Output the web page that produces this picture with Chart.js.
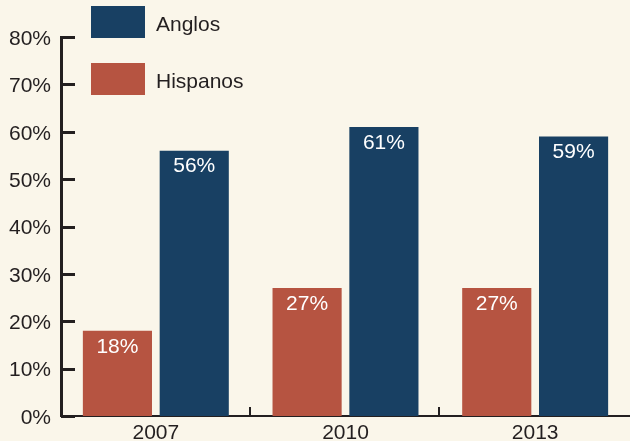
<!DOCTYPE html>
<html><head><meta charset="utf-8">
<script src="https://cdn.jsdelivr.net/npm/chart.js@4.4.0/dist/chart.umd.min.js"></script>
<style>html,body{margin:0;padding:0;background:#faf6ea;} canvas{display:block;}</style>
</head><body><canvas id="c" width="630" height="441"></canvas>
<script>
const categories = ['2007', '2010', '2013'];
const seriesNames = ['Hispanos', 'Anglos'];
const hispanosValues = [18, 27, 27];
const anglosValues = [56, 61, 59];
const yTickValues = [0, 10, 20, 30, 40, 50, 60, 70, 80];
const seriesColors = ['#b65441', '#184063'];

const FONT = '"Liberation Sans", Arial, sans-serif';
const INK = '#231f20';

const decorPlugin = {
  id: 'decor',
  afterDraw(chart) {
    const ctx = chart.ctx;
    const xs = chart.scales.x, ys = chart.scales.y;
    const area = chart.chartArea;
    ctx.save();
    ctx.strokeStyle = INK;
    // y ticks pointing inward
    ctx.lineWidth = 3;
    yTickValues.forEach(v => {
      const y = Math.round(ys.getPixelForValue(v)) + 0.5;
      ctx.beginPath(); ctx.moveTo(area.left, y); ctx.lineTo(area.left + 14, y); ctx.stroke();
    });
    // x ticks between categories, pointing inward
    ctx.lineWidth = 2;
    for (let i = 0; i < categories.length - 1; i++) {
      const x = Math.round((xs.getPixelForValue(i) + xs.getPixelForValue(i + 1)) / 2) - 1;
      ctx.beginPath(); ctx.moveTo(x, area.bottom); ctx.lineTo(x, area.bottom - 9); ctx.stroke();
    }
    // value labels
    ctx.fillStyle = '#ffffff';
    ctx.font = '21px ' + FONT;
    ctx.textAlign = 'center';
    ctx.textBaseline = 'middle';
    chart.data.datasets.forEach((ds, di) => {
      const meta = chart.getDatasetMeta(di);
      meta.data.forEach((el, i) => {
        ctx.fillText(ds.data[i] + '%', el.x, el.y + 16);
      });
    });
    // legend (reverse order: Anglos first)
    ctx.font = '21px ' + FONT;
    ctx.textAlign = 'left';
    const order = chart.data.datasets.map((d, i) => i).reverse();
    order.forEach((di, k) => {
      const ds = chart.data.datasets[di];
      const by = 6 + k * 57;
      ctx.fillStyle = ds.backgroundColor;
      ctx.fillRect(91, by, 54, 32);
      ctx.fillStyle = INK;
      ctx.fillText(ds.label, 156, by + 19);
    });
    ctx.restore();
  }
};

new Chart(document.getElementById('c'), {
  type: 'bar',
  data: {
    labels: categories,
    datasets: [
      { label: seriesNames[0], data: hispanosValues, backgroundColor: seriesColors[0] },
      { label: seriesNames[1], data: anglosValues, backgroundColor: seriesColors[1] }
    ]
  },
  options: {
    responsive: false,
    animation: false,
    devicePixelRatio: 1,
    layout: { padding: { top: 37, right: 0, bottom: 0, left: 0 } },
    datasets: { bar: { categoryPercentage: 0.81, barPercentage: 0.9 } },
    plugins: { legend: { display: false }, tooltip: { enabled: false } },
    scales: {
      x: {
        grid: { display: false, drawTicks: false },
        border: { display: true, color: INK, width: 2 },
        ticks: { color: INK, font: { family: FONT, size: 21 }, padding: 5, maxRotation: 0 },
        afterFit(s) { s.height = 25; }
      },
      y: {
        min: 0, max: 80,
        afterBuildTicks(s) { s.ticks = yTickValues.map(v => ({ value: v })); },
        grid: { display: false, drawTicks: false },
        border: { display: true, color: INK, width: 3 },
        ticks: { color: INK, font: { family: FONT, size: 21 }, padding: 10, labelOffset: 2,
                 callback: v => v + '%' },
        afterFit(s) { s.width = 61; }
      }
    }
  },
  plugins: [decorPlugin]
});
</script>
</body></html>
